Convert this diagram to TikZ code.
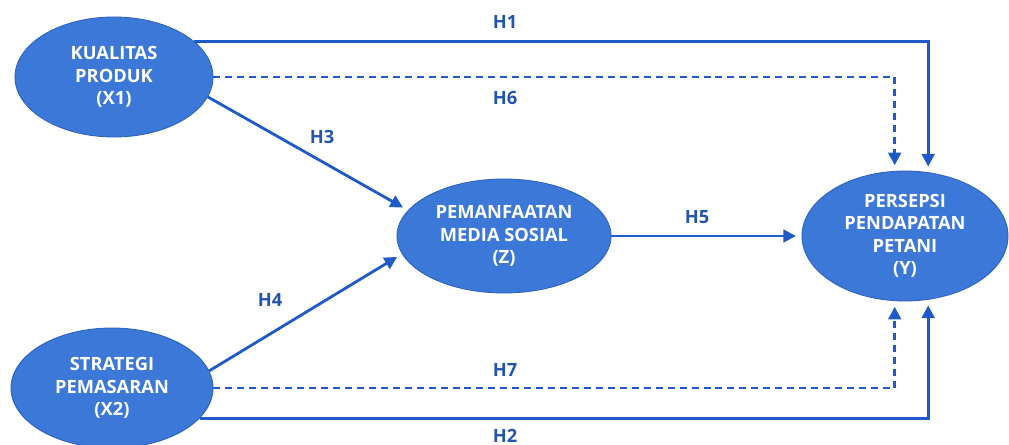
\documentclass[tikz,border=0pt]{standalone}
\usepackage{fontspec}
\setmainfont{Open Sans}
\usepackage{tikz}
\usetikzlibrary{shapes.geometric, arrows.meta}
\definecolor{varfill}{RGB}{59,120,216}
\definecolor{varedge}{RGB}{44,96,190}
\definecolor{pathblue}{RGB}{30,90,200}
\definecolor{lblblue}{RGB}{34,84,178}

\begin{document}
\begin{tikzpicture}[x=0.025cm, y=-0.025cm,
	var/.style={ellipse, draw=varedge, fill=varfill, line width=0.6pt, inner sep=0, text=white, align=center, font=\fontsize{13}{16}\selectfont\bfseries},
	arr/.style={draw=pathblue, line width=2pt, -{Triangle[length=9pt, width=9pt]}, shorten >=4pt},
	dsh/.style={arr, dash pattern=on 5pt off 3.5pt},
	lbl/.style={text=lblblue, font=\fontsize{13}{15}\selectfont\bfseries}]
	\useasboundingbox (0, 0) rectangle (1009, 445);
	% Variables:
	\node[var, minimum width=4.95cm, minimum height=3cm] (x1) at (114, 77) {KUALITAS\\PRODUK\\(X1)};
	\node[var, minimum width=5.05cm, minimum height=3cm] (x2) at (112, 388) {STRATEGI\\PEMASARAN\\(X2)};
	\node[var, minimum width=5.35cm, minimum height=2.85cm] (z) at (504, 236) {PEMANFAATAN\\MEDIA SOSIAL\\(Z)};
	\node[var, minimum width=5.15cm, minimum height=3.25cm] (y) at (905, 236) {PERSEPSI\\PENDAPATAN\\PETANI\\(Y)};
	% Paths:
	\draw[arr] (x1.24) -| (y.70);
	\draw[dsh] (x1.east) -| (y.99);
	\draw[arr] (x1.-12) -- (z.165);
	\draw[arr] (x2.10) -- (z.190);
	\draw[arr] (z.east) -- (y.west);
	\draw[dsh] (x2.east) -| (y.-99);
	\draw[arr] (x2.-19) -| (y.-70);
	% Labels:
	\node[lbl] (h1) at (505, 22) {H1};
	\node[lbl] (h6) at (505, 98) {H6};
	\node[lbl] (h3) at (322, 137) {H3};
	\node[lbl] (h5) at (697, 217) {H5};
	\node[lbl] (h4) at (270, 300) {H4};
	\node[lbl] (h7) at (505, 370) {H7};
	\node[lbl] (h2) at (505, 436) {H2};
\end{tikzpicture}
\end{document}
